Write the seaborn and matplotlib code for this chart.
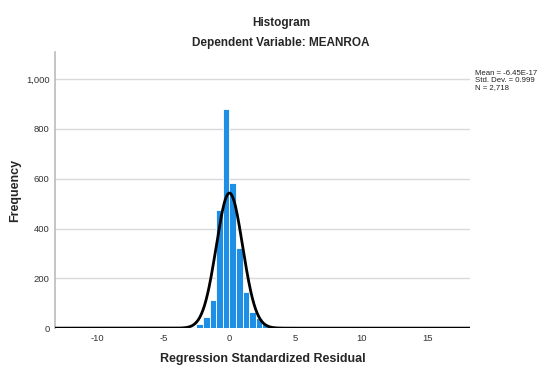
import numpy as np
import pandas as pd
import seaborn as sns
import matplotlib.pyplot as plt

# Histogram counts (bin width 0.5)
bin_left = [-3.5, -3.0, -2.5, -2.0, -1.5, -1.0, -0.5, 0.0, 0.5, 1.0, 1.5, 2.0, 2.5, 3.0, 3.5]
counts = [3, 6, 16, 44, 114, 473, 880, 582, 322, 145, 64, 39, 16, 7, 4]

# Summary stats shown on chart
mean_val = -6.45e-17
std_val = 0.999
n_obs = 2718

bin_width = 0.5
df = pd.DataFrame({'resid': np.array(bin_left) + bin_width / 2, 'count': counts})

sns.set_style('white')
plt.rcParams['font.family'] = ['Liberation Sans', 'DejaVu Sans']
plt.rcParams['axes.unicode_minus'] = False

fig = plt.figure(figsize=(5.39, 3.65), dpi=100)
ax = fig.add_axes([0.102, 0.101, 0.770, 0.757])

sns.histplot(data=df, x='resid', weights='count', binwidth=bin_width, binrange=(-3.5, 4.0),
             color='#1f8fe6', edgecolor='white', linewidth=0.6, alpha=1, ax=ax, zorder=2)

# Normal curve scaled to the histogram
xs = np.linspace(-13.2, 18.2, 800)
pdf = np.exp(-0.5 * ((xs - mean_val) / std_val) ** 2) / (std_val * np.sqrt(2 * np.pi))
sns.lineplot(x=xs, y=pdf * n_obs * bin_width, color='black', linewidth=2, ax=ax, zorder=3)

ax.set_xlim(-13.2, 18.2)
ax.set_ylim(0, 1110)
ax.set_xticks([-10, -5, 0, 5, 10, 15])
ax.set_yticks([0, 200, 400, 600, 800, 1000])
ax.set_yticklabels(['0', '200', '400', '600', '800', '1,000'])
ax.tick_params(axis='both', length=0, labelsize=6.8, colors='#333333', pad=4)
ax.yaxis.grid(True, color='#d9d9d9', linewidth=1, zorder=0)
ax.set_axisbelow(True)
for s in ['top', 'right', 'bottom']:
    ax.spines[s].set_visible(False)
ax.spines['left'].set_color('#bbbbbb')
ax.spines['left'].set_linewidth(1.2)

ax.set_xlabel('Regression Standardized Residual', fontsize=9, fontweight='bold', va='center')
ax.set_ylabel('Frequency', fontsize=9, fontweight='bold', va='center')
ax.xaxis.set_label_coords(0.5, -0.112)
ax.yaxis.set_label_coords(-0.096, 0.5)

fig.text(0.521, 0.938, 'Histogram', ha='center', va='center', fontsize=8.5, fontweight='bold')
fig.text(0.521, 0.882, 'Dependent Variable: MEANROA', ha='center', va='center', fontsize=8.5, fontweight='bold')

fig.text(0.882, 0.78, 'Mean = -6.45E-17\nStd. Dev. = 0.999\nN = 2,718',
         ha='left', va='center', fontsize=5.6, linespacing=0.95, color='#222222')

fig.savefig('out.png', dpi=100)
